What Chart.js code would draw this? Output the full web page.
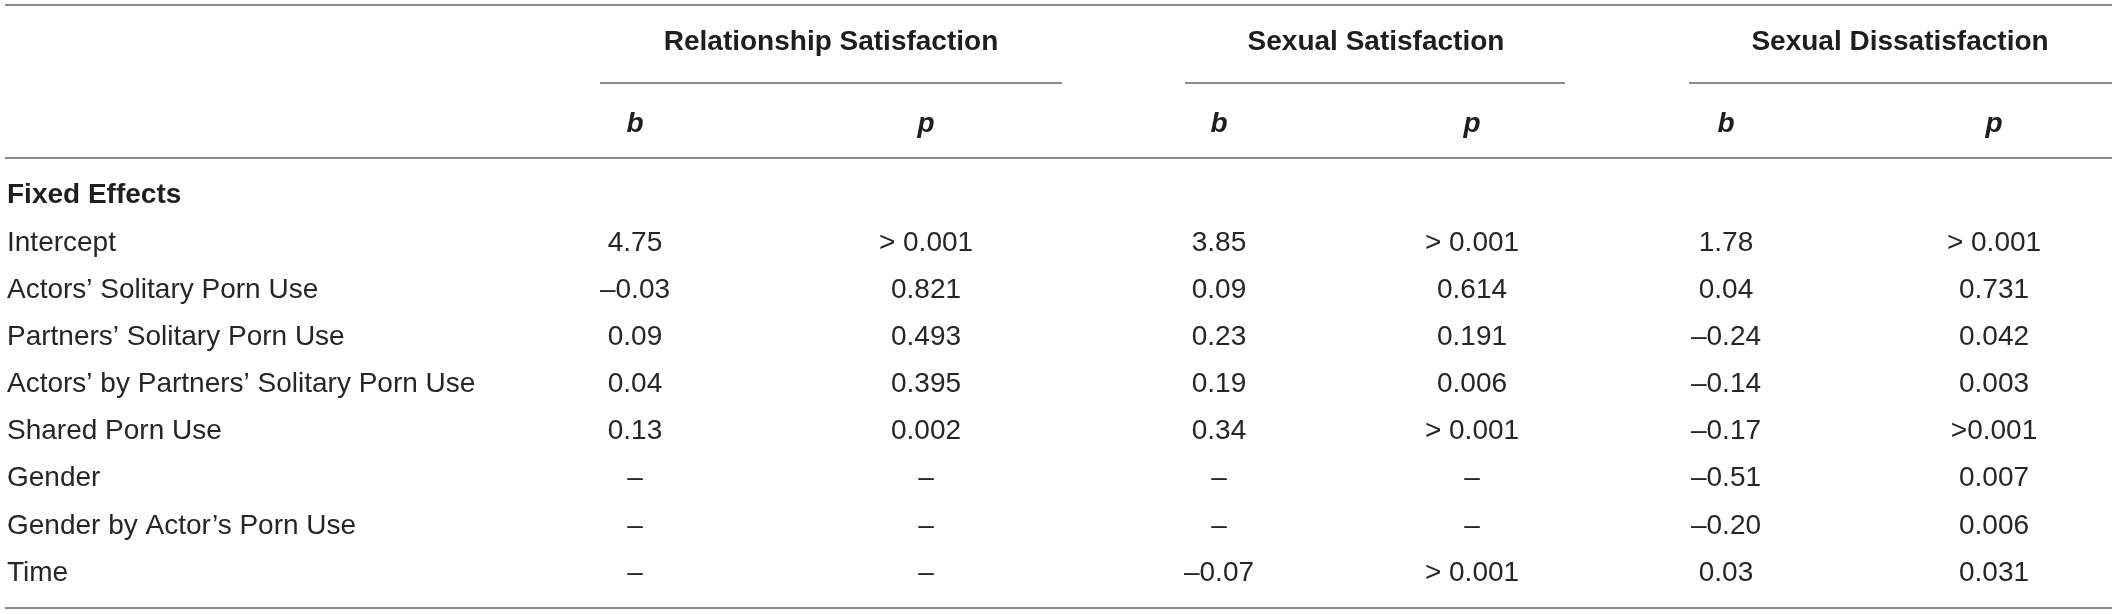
<!DOCTYPE html>
<html>
<head>
<meta charset="utf-8">
<title>Fixed effects table</title>
<script src="https://cdn.jsdelivr.net/npm/chart.js@4.4.1/dist/chart.umd.min.js"></script>
<style>
    html, body { margin: 0; padding: 0; background: #ffffff; }
    #myChart { display: block; }
</style>
</head>
<body>
<canvas id="myChart" width="2118" height="614"></canvas>
<script>
//Table of fixed effects drawn on a Chart.js canvas
//Rows are placed with the y scale, columns with the x scale

//Start of data
var rowLabels = ["Intercept", "Actors\u2019 Solitary Porn Use", "Partners\u2019 Solitary Porn Use",
    "Actors\u2019 by Partners\u2019 Solitary Porn Use", "Shared Porn Use", "Gender",
    "Gender by Actor\u2019s Porn Use", "Time"];

var groupLabels = ["Relationship Satisfaction", "Sexual Satisfaction", "Sexual Dissatisfaction"];
var statLabels = ["b", "p"];
var sectionLabel = "Fixed Effects";

//b values (null = not in model)
var relB = [4.75, -0.03, 0.09, 0.04, 0.13, null, null, null];
var sexB = [3.85, 0.09, 0.23, 0.19, 0.34, null, null, -0.07];
var disB = [1.78, 0.04, -0.24, -0.14, -0.17, -0.51, -0.20, 0.03];

//p values as printed
var relP = ["> 0.001", "0.821", "0.493", "0.395", "0.002", null, null, null];
var sexP = ["> 0.001", "0.614", "0.191", "0.006", "> 0.001", null, null, "> 0.001"];
var disP = ["> 0.001", "0.731", "0.042", "0.003", ">0.001", "0.007", "0.006", "0.031"];

var columns = [relB, relP, sexB, sexP, disB, disP];

//Layout (table units on the x scale, row units on the y scale)
var colPos = [635, 926, 1219, 1472, 1726, 1994];
var labelPos = 7;
var groupPos = [831, 1376, 1900];
var groupRule = [[600, 1062], [1185, 1565], [1689, 2112]];
var ruleEnds = [5, 2112];
var rowGroup = -4.264;
var rowStat = -2.524;
var rowSection = -1.02;
var lineTop = -5.049, lineGroup = -3.394, lineHead = -1.803, lineBottom = 7.743;

var bodyFont = "28px 'Liberation Sans', Arial, sans-serif";
var boldFont = "bold 28px 'Liberation Sans', Arial, sans-serif";
var italicFont = "italic bold 28px 'Liberation Sans', Arial, sans-serif";
var textColor = "#262626";
var headColor = "#1e1e1e";
var ruleColor = "#8c8c8c";

//Format a cell the way the table prints it
function formatCell(v) {
    if (v === null || v === undefined) return "\u2013";
    if (typeof v === "number") {
        var s = Math.abs(v).toFixed(2);
        return (v < 0 ? "\u2013" : "") + s;
    }
    return v;
}

//Build one dataset per column, one point per row
function buildDatasets() {
    var sets = [];
    for (var c = 0; c < columns.length; c++) {
        var pts = [];
        for (var r = 0; r < rowLabels.length; r++) {
            pts.push({ x: colPos[c], y: r, text: formatCell(columns[c][r]) });
        }
        sets.push({ label: "col" + c, data: pts, pointRadius: 0, pointHoverRadius: 0 });
    }
    return sets;
}

//Plugin that draws the rules and texts
var tablePlugin = {
    id: "tableText",
    afterDatasetsDraw: function (chart) {
        var ctx = chart.ctx;
        var xs = chart.scales.x;
        var ys = chart.scales.y;

        function hline(x0, x1, yv) {
            var y = Math.round(ys.getPixelForValue(yv));
            ctx.beginPath();
            ctx.moveTo(xs.getPixelForValue(x0), y);
            ctx.lineTo(xs.getPixelForValue(x1), y);
            ctx.stroke();
        }

        ctx.save();
        ctx.strokeStyle = ruleColor;
        ctx.lineWidth = 2;
        hline(ruleEnds[0], ruleEnds[1], lineTop);
        hline(ruleEnds[0], ruleEnds[1], lineHead);
        hline(ruleEnds[0], ruleEnds[1], lineBottom);
        for (var g = 0; g < groupRule.length; g++) {
            hline(groupRule[g][0], groupRule[g][1], lineGroup);
        }

        ctx.fillStyle = headColor;
        ctx.textBaseline = "middle";

        //group headers
        ctx.font = boldFont;
        ctx.textAlign = "center";
        for (var i = 0; i < groupLabels.length; i++) {
            ctx.fillText(groupLabels[i], xs.getPixelForValue(groupPos[i]), ys.getPixelForValue(rowGroup));
        }

        //b / p headers
        ctx.font = italicFont;
        for (var c = 0; c < colPos.length; c++) {
            ctx.fillText(statLabels[c % 2], xs.getPixelForValue(colPos[c]), ys.getPixelForValue(rowStat));
        }

        //section label
        ctx.font = boldFont;
        ctx.textAlign = "left";
        ctx.fillText(sectionLabel, xs.getPixelForValue(labelPos), ys.getPixelForValue(rowSection));

        //row labels
        ctx.fillStyle = textColor;
        ctx.font = bodyFont;
        for (var r = 0; r < rowLabels.length; r++) {
            ctx.fillText(rowLabels[r], xs.getPixelForValue(labelPos), ys.getPixelForValue(r));
        }

        //cells, placed at each point element
        ctx.textAlign = "center";
        chart.data.datasets.forEach(function (ds, di) {
            var meta = chart.getDatasetMeta(di);
            meta.data.forEach(function (el, k) {
                ctx.fillText(ds.data[k].text, el.x, el.y);
            });
        });
        ctx.restore();
    }
};

//Start of main code
var infoChart = new Chart("myChart", {
    type: "scatter",
    data: { datasets: buildDatasets() },
    options: {
        responsive: false,
        animation: false,
        devicePixelRatio: 1,
        layout: { padding: 0 },
        plugins: {
            legend: { display: false },
            tooltip: { enabled: false },
            title: { display: false }
        },
        scales: {
            x: { type: "linear", display: false, min: 0, max: 2118 },
            y: { type: "linear", display: false, reverse: true, min: -5.155, max: 7.87 }
        }
    },
    plugins: [tablePlugin]
});
</script>
</body>
</html>
